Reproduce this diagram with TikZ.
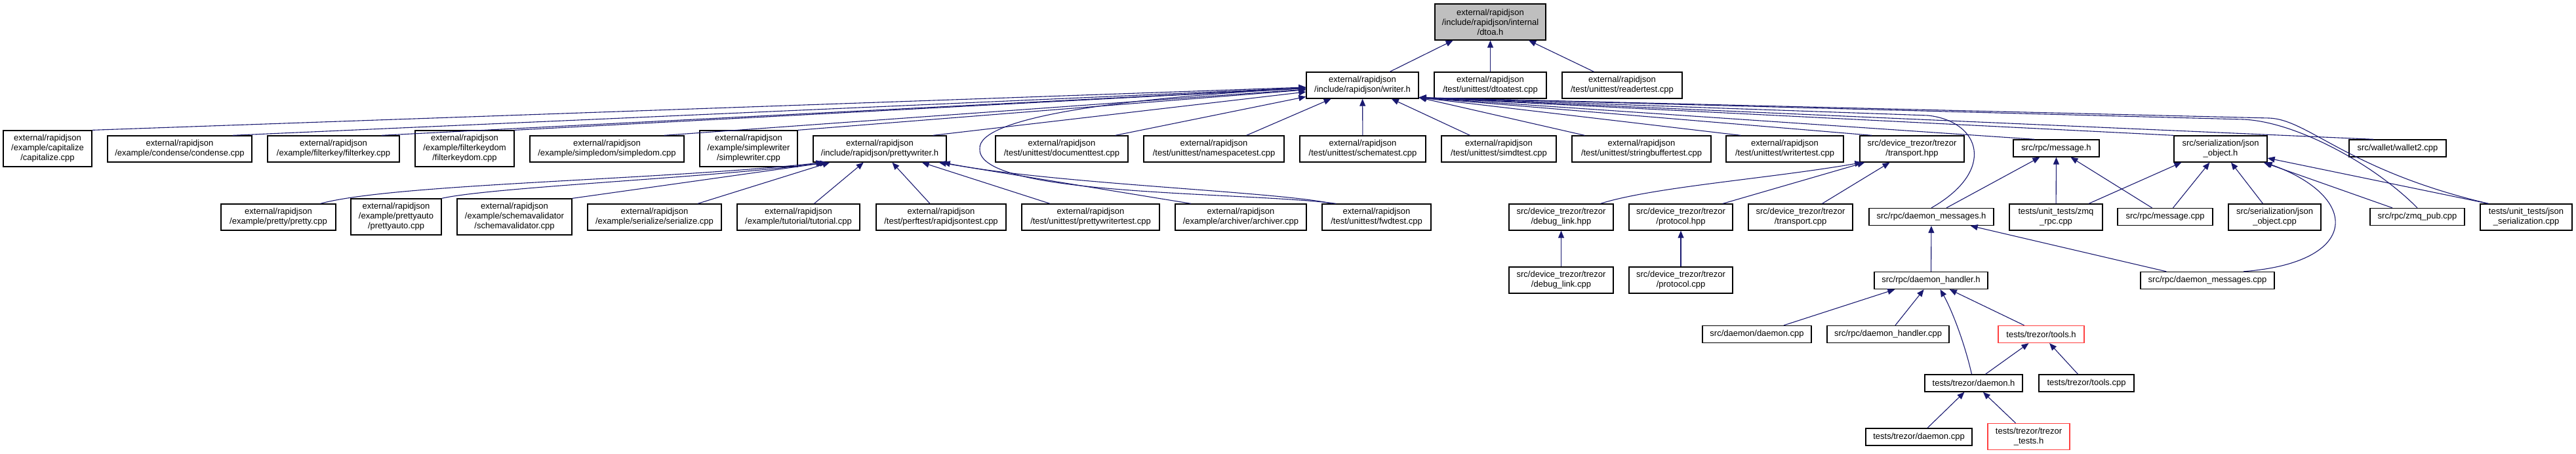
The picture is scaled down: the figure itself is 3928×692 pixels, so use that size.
\documentclass[tikz,border=0pt]{standalone}
\usepackage{fontspec}
\setmainfont{Liberation Sans}
\usetikzlibrary{arrows.meta}
\definecolor{depblue}{RGB}{25,25,112}
\definecolor{rootgray}{RGB}{191,191,191}
\definecolor{cutred}{RGB}{255,64,64}

\begin{document}
\begin{tikzpicture}[x=1pt,y=-1pt,
  srcbox/.style={draw=black,line width=1.3pt,fill=white,align=center,inner sep=1pt,
    font=\fontsize{13}{15}\selectfont},
  rootbox/.style={srcbox,fill=rootgray},
  cutbox/.style={srcbox,draw=cutred},
  h1/.style={minimum height=26pt},
  h2/.style={minimum height=40pt},
  h3/.style={minimum height=55pt},
  dep/.style={-{Triangle[length=11pt,width=9pt]},draw=depblue,line width=1.1pt}
]
\useasboundingbox (0,0) rectangle (3928,692);

\node[rootbox,h3,minimum width=169pt] (dtoa) at (2272.5,33.5) {external/rapidjson\\/include/rapidjson/internal\\/dtoa.h};

\node[srcbox,h2,minimum width=171pt] (writer) at (2077.5,130) {external/rapidjson\\/include/rapidjson/writer.h};
\node[srcbox,h2,minimum width=171pt] (dtoatest) at (2272.5,130) {external/rapidjson\\/test/unittest/dtoatest.cpp};
\node[srcbox,h2,minimum width=183pt] (readertest) at (2473.5,130) {external/rapidjson\\/test/unittest/readertest.cpp};

\node[srcbox,h3,minimum width=135pt] (capitalize) at (72.5,226.5) {external/rapidjson\\/example/capitalize\\/capitalize.cpp};
\node[srcbox,h2,minimum width=220pt] (condense) at (274,227) {external/rapidjson\\/example/condense/condense.cpp};
\node[srcbox,h2,minimum width=201pt] (filterkey) at (508.5,227) {external/rapidjson\\/example/filterkey/filterkey.cpp};
\node[srcbox,h3,minimum width=151pt] (filterkeydom) at (708.5,226.5) {external/rapidjson\\/example/filterkeydom\\/filterkeydom.cpp};
\node[srcbox,h2,minimum width=235pt] (simpledom) at (925.5,227) {external/rapidjson\\/example/simpledom/simpledom.cpp};
\node[srcbox,h3,minimum width=149pt] (simplewriter) at (1141.5,226.5) {external/rapidjson\\/example/simplewriter\\/simplewriter.cpp};
\node[srcbox,h2,minimum width=203pt] (prettywriter) at (1341.5,227) {external/rapidjson\\/include/rapidjson/prettywriter.h};
\node[srcbox,h2,minimum width=202pt] (documenttest) at (1619,227) {external/rapidjson\\/test/unittest/documenttest.cpp};
\node[srcbox,h2,minimum width=214pt] (namespacetest) at (1851,227) {external/rapidjson\\/test/unittest/namespacetest.cpp};
\node[srcbox,h2,minimum width=192pt] (schematest) at (2078,227) {external/rapidjson\\/test/unittest/schematest.cpp};
\node[srcbox,h2,minimum width=175pt] (simdtest) at (2285.5,227) {external/rapidjson\\/test/unittest/simdtest.cpp};
\node[srcbox,h2,minimum width=212pt] (stringbuffertest) at (2503,227) {external/rapidjson\\/test/unittest/stringbuffertest.cpp};
\node[srcbox,h2,minimum width=179pt] (writertest) at (2721.5,227) {external/rapidjson\\/test/unittest/writertest.cpp};
\node[srcbox,h2,minimum width=159pt] (transporthpp) at (2915.5,227) {src/device\_trezor/trezor\\/transport.hpp};
\node[srcbox,h1,minimum width=131pt] (messageh) at (3135.5,226) {src/rpc/message.h};
\node[srcbox,h2,minimum width=142pt] (jsonobjecth) at (3386,227) {src/serialization/json\\\_object.h};
\node[srcbox,h1,minimum width=148pt] (wallet2) at (3656,226) {src/wallet/wallet2.cpp};

\node[srcbox,h2,minimum width=175pt] (pretty) at (424.5,331) {external/rapidjson\\/example/pretty/pretty.cpp};
\node[srcbox,h3,minimum width=138pt] (prettyauto) at (604,330.5) {external/rapidjson\\/example/prettyauto\\/prettyauto.cpp};
\node[srcbox,h3,minimum width=175pt] (schemavalidator) at (784.5,330.5) {external/rapidjson\\/example/schemavalidator\\/schemavalidator.cpp};
\node[srcbox,h2,minimum width=204pt] (serialize) at (998,331) {external/rapidjson\\/example/serialize/serialize.cpp};
\node[srcbox,h2,minimum width=187pt] (tutorial) at (1217.5,331) {external/rapidjson\\/example/tutorial/tutorial.cpp};
\node[srcbox,h2,minimum width=198pt] (rapidjsontest) at (1435,331) {external/rapidjson\\/test/perftest/rapidjsontest.cpp};
\node[srcbox,h2,minimum width=210pt] (prettywritertest) at (1663,331) {external/rapidjson\\/test/unittest/prettywritertest.cpp};
\node[srcbox,h2,minimum width=200pt] (archiver) at (1892,331) {external/rapidjson\\/example/archiver/archiver.cpp};
\node[srcbox,h2,minimum width=166pt] (fwdtest) at (2099,331) {external/rapidjson\\/test/unittest/fwdtest.cpp};
\node[srcbox,h2,minimum width=159pt] (debuglinkhpp) at (2380.5,331) {src/device\_trezor/trezor\\/debug\_link.hpp};
\node[srcbox,h2,minimum width=158pt] (protocolhpp) at (2563,331) {src/device\_trezor/trezor\\/protocol.hpp};
\node[srcbox,h2,minimum width=159pt] (transportcpp) at (2745.5,331) {src/device\_trezor/trezor\\/transport.cpp};
\node[srcbox,h1,minimum width=190pt] (daemonmsgh) at (2945,330.5) {src/rpc/daemon\_messages.h};
\node[srcbox,h2,minimum width=142pt] (zmqrpc) at (3135,331) {tests/unit\_tests/zmq\\\_rpc.cpp};
\node[srcbox,h1,minimum width=145pt] (messagecpp) at (3301.5,330.5) {src/rpc/message.cpp};
\node[srcbox,h2,minimum width=141pt] (jsonobjectcpp) at (3468.5,331) {src/serialization/json\\\_object.cpp};
\node[srcbox,h1,minimum width=144pt] (zmqpub) at (3686,330.5) {src/rpc/zmq\_pub.cpp};
\node[srcbox,h2,minimum width=140pt] (jsonser) at (3852,331) {tests/unit\_tests/json\\\_serialization.cpp};

\node[srcbox,h2,minimum width=159pt] (debuglinkcpp) at (2380.5,427) {src/device\_trezor/trezor\\/debug\_link.cpp};
\node[srcbox,h2,minimum width=158pt] (protocolcpp) at (2563,427) {src/device\_trezor/trezor\\/protocol.cpp};
\node[srcbox,h1,minimum width=173pt] (daemonhandlerh) at (2944.5,427.5) {src/rpc/daemon\_handler.h};
\node[srcbox,h1,minimum width=204pt] (daemonmsgcpp) at (3366,427.5) {src/rpc/daemon\_messages.cpp};

\node[srcbox,h1,minimum width=166pt] (daemoncpp) at (2679,509.5) {src/daemon/daemon.cpp};
\node[srcbox,h1,minimum width=186pt] (daemonhandlercpp) at (2879,509.5) {src/rpc/daemon\_handler.cpp};
\node[cutbox,h1,minimum width=131pt] (toolsh) at (3112.5,509.5) {tests/trezor/tools.h};

\node[srcbox,h1,minimum width=149pt] (trezordaemonh) at (3009.5,584) {tests/trezor/daemon.h};
\node[srcbox,h1,minimum width=145pt] (toolscpp) at (3181.5,584) {tests/trezor/tools.cpp};

\node[srcbox,h1,minimum width=162pt] (trezordaemoncpp) at (2926,666) {tests/trezor/daemon.cpp};
\node[cutbox,h2,minimum width=125pt] (trezortests) at (3093.5,665.5) {tests/trezor/trezor\\\_tests.h};

\draw[dep] (writer) -- (dtoa);
\draw[dep] (dtoatest) -- (dtoa);
\draw[dep] (readertest) -- (dtoa);

\draw[dep] (capitalize.north east) -- (writer);
\draw[dep] ([xshift=-30pt]condense.north east) -- (writer);
\draw[dep] ([xshift=-28pt]filterkey.north east) -- (writer);
\draw[dep] (filterkeydom.north east) -- (writer);
\draw[dep] ([xshift=-31pt]simpledom.north east) -- (writer);
\draw[dep] (simplewriter.north east) -- (writer);
\draw[dep] ([xshift=-21pt]prettywriter.north east) -- (writer);
\draw[dep] ([xshift=-20pt]documenttest.north east) -- (writer);
\draw[dep] ([xshift=-58pt]namespacetest.north east) -- (writer);
\draw[dep] (schematest) -- (writer);
\draw[dep] ([xshift=-44pt]simdtest.north) -- (writer);
\draw[dep] ([xshift=20pt]stringbuffertest.north west) -- ([yshift=2pt]writer.south east);
\draw[dep] ([xshift=23pt]writertest.north west) -- ([yshift=2pt]writer.south east);
\draw[dep] ([xshift=19pt]transporthpp.north west) -- ([yshift=2pt]writer.south east);
\draw[dep] ([xshift=33pt]messageh.north west) -- ([yshift=2pt]writer.south east);
\draw[dep] (jsonobjecth.north west) -- ([yshift=2pt]writer.south east);
\draw[dep] ([xshift=38pt]wallet2.north west) -- ([yshift=2pt]writer.south east);
\draw[dep] (daemonmsgh.north) .. controls (3045,260) and (3020,185) .. (2940,176) -- ([yshift=2pt]writer.south east);
\draw[dep] (zmqpub.north) .. controls (3620,250) and (3500,185) .. (3420,182) -- ([yshift=2pt]writer.south east);
\draw[dep] ([xshift=13pt]jsonser.north west) .. controls (3580,260) and (3520,182) .. (3460,180) -- ([yshift=2pt]writer.south east);
\draw[dep] ([xshift=22pt]fwdtest.north west) .. controls (1900,292) and (1490,300) .. (1494,227)
  .. controls (1490,180) and (1700,150) .. (writer);

\draw[dep] ([xshift=64pt]pretty.north) .. controls (600,280) and (1000,275) .. ([xshift=16pt]prettywriter.south west);
\draw[dep] (prettyauto.north east) .. controls (750,285) and (1100,270) .. ([xshift=18pt]prettywriter.south west);
\draw[dep] (schemavalidator.north east) -- ([xshift=22pt]prettywriter.south west);
\draw[dep] ([xshift=66pt]serialize.north) -- ([xshift=26pt]prettywriter.south west);
\draw[dep] ([xshift=24pt]tutorial.north) -- (prettywriter);
\draw[dep] ([xshift=-17pt]rapidjsontest.north) -- (prettywriter);
\draw[dep] ([xshift=-62pt]prettywritertest.north) -- (prettywriter);
\draw[dep] ([xshift=-76pt]archiver.north) -- ([xshift=-12pt]prettywriter.south east);
\draw[dep] ([xshift=16pt]fwdtest.north west) .. controls (1950,292) and (1600,280) .. ([xshift=-6pt]prettywriter.south east);

\draw[dep] ([xshift=60pt]debuglinkhpp.north) .. controls (2520,285) and (2700,272) .. ([xshift=4pt]transporthpp.south west);
\draw[dep] ([xshift=64pt]protocolhpp.north) -- ([xshift=8pt]transporthpp.south west);
\draw[dep] ([xshift=33pt]transportcpp.north) -- (transporthpp);
\draw[dep] (debuglinkcpp) -- (debuglinkhpp);
\draw[dep] (protocolcpp) -- (protocolhpp);

\draw[dep] ([xshift=23pt]daemonmsgh.north) -- (messageh);
\draw[dep] (zmqrpc) -- (messageh);
\draw[dep] ([xshift=-20pt]messagecpp.north) -- (messageh);

\draw[dep] ([xshift=50pt]zmqrpc.north) -- ([xshift=12pt]jsonobjecth.south west);
\draw[dep] ([xshift=12pt]messagecpp.north) -- (jsonobjecth);
\draw[dep] ([xshift=-18pt]jsonobjectcpp.north) -- (jsonobjecth);
\draw[dep] ([xshift=-38pt]zmqpub.north) -- ([xshift=-6pt]jsonobjecth.south east);
\draw[dep] ([xshift=13pt]jsonser.north west) -- ([yshift=-14pt]jsonobjecth.east);
\draw[dep] ([xshift=55pt]daemonmsgcpp.north) .. controls (3600,400) and (3600,300) .. ([xshift=-4pt]jsonobjecth.south east);

\draw[dep] (daemonhandlerh) -- (daemonmsgh);
\draw[dep] ([xshift=40pt]daemonmsgcpp.north west) -- ([xshift=-36pt]daemonmsgh.south east);

\draw[dep] ([xshift=41pt]daemoncpp.north) -- ([xshift=32pt]daemonhandlerh.south west);
\draw[dep] ([xshift=11pt]daemonhandlercpp.north) -- (daemonhandlerh);
\draw[dep] ([xshift=-3pt]trezordaemonh.north) .. controls (2995,520) and (2975,470) .. ([xshift=14pt]daemonhandlerh.south);
\draw[dep] ([xshift=-26pt]toolsh.north) -- (daemonhandlerh);

\draw[dep] ([xshift=18pt]trezordaemonh.north) -- (toolsh);
\draw[dep] ([xshift=-13pt]toolscpp.north) -- (toolsh);

\draw[dep] ([xshift=13pt]trezordaemoncpp.north) -- (trezordaemonh);
\draw[dep] ([xshift=-20pt]trezortests.north) -- (trezordaemonh);
\end{tikzpicture}
\end{document}
